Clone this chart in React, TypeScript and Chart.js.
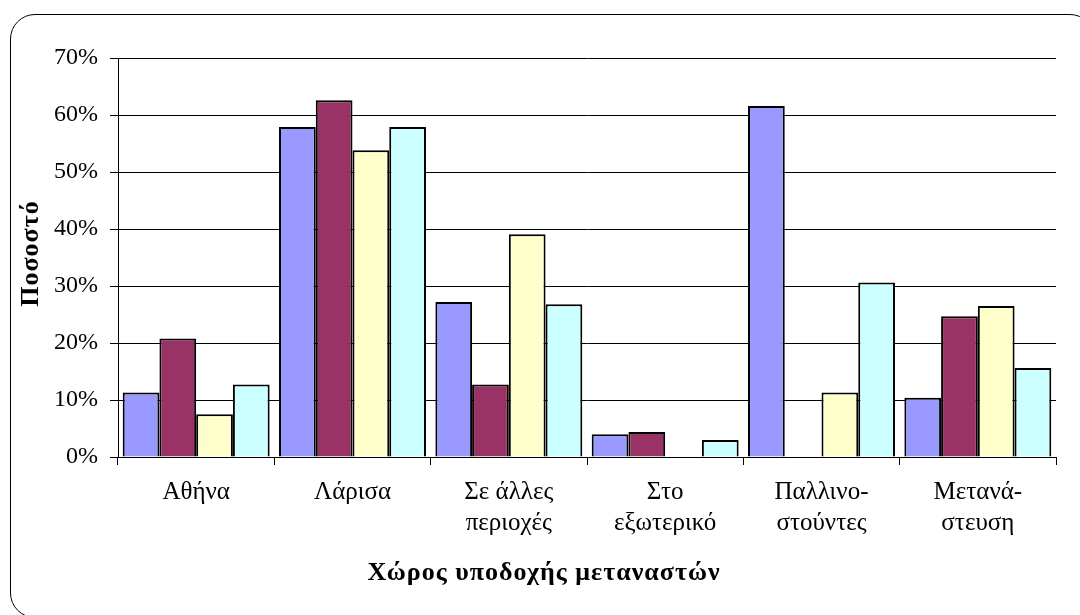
import React, { useEffect, useRef } from "react";
import { Chart, registerables } from "chart.js";

Chart.register(...registerables);

const categories: string[][] = [
  ["Αθήνα"],
  ["Λάρισα"],
  ["Σε άλλες", "περιοχές"],
  ["Στο", "εξωτερικό"],
  ["Παλλινο-", "στούντες"],
  ["Μετανά-", "στευση"],
];

const seriesNames = ["Σειρά 1", "Σειρά 2", "Σειρά 3", "Σειρά 4"];
const series1 = [11.3, 57.9, 27.2, 4.0, 61.6, 10.4];
const series2 = [20.8, 62.6, 12.7, 4.4, 0, 24.7];
const series3 = [7.5, 53.8, 39.1, 0, 11.3, 26.5];
const series4 = [12.7, 57.9, 26.8, 3.0, 30.6, 15.6];
const seriesColors = ["#9999FF", "#993366", "#FFFFCC", "#CCFFFF"];

const yTitle = "Ποσοστό";
const xTitle = "Χώρος υποδοχής μεταναστών";
const yMin = 0;
const yMax = 70;
const yStep = 10;

const FONT = "'Liberation Serif', 'Times New Roman', serif";

const titlesPlugin = {
  id: "axisTitles",
  afterDraw(chart: any) {
    const ctx = chart.ctx as CanvasRenderingContext2D;
    const area = chart.chartArea;
    ctx.save();
    (ctx as any).letterSpacing = "1px";
    ctx.fillStyle = "#000";
    ctx.font = `bold 26px ${FONT}`;
    ctx.textAlign = "center";
    ctx.textBaseline = "middle";
    // x-axis title, centred on the canvas below the tick labels
    ctx.fillText(xTitle, chart.width / 2 + 4, area.bottom + 116);
    // y-axis title, rotated, centred on the plot area
    ctx.translate(31, (area.top + area.bottom) / 2 - 4);
    ctx.rotate(-Math.PI / 2);
    ctx.fillText(yTitle, 0, 0);
    ctx.restore();
  },
};

export default function App() {
  const ref = useRef<HTMLCanvasElement | null>(null);

  useEffect(() => {
    if (!ref.current) return;
    const all = [series1, series2, series3, series4];
    const chart = new Chart(ref.current, {
      type: "bar",
      data: {
        labels: categories,
        datasets: all.map((d, i) => ({
          label: seriesNames[i],
          data: d,
          backgroundColor: seriesColors[i],
          borderColor: "#000",
          borderWidth: 2,
          categoryPercentage: 0.94,
          barPercentage: 1.0,
        })),
      },
      options: {
        responsive: false,
        animation: false,
        events: [],
        layout: { padding: { left: 0, right: 24, top: 58, bottom: 0 } },
        plugins: {
          legend: { display: false },
          tooltip: { enabled: false },
          title: { display: false },
        },
        scales: {
          x: {
            afterFit: (s: any) => {
              s.height = 158;
            },
            grid: {
              display: true,
              drawOnChartArea: false,
              drawTicks: true,
              tickLength: 8,
              color: "#000",
              offset: true,
            },
            border: { display: true, color: "#000", width: 1 },
            ticks: {
              color: "#000",
              padding: 12,
              maxRotation: 0,
              autoSkip: false,
              font: { family: FONT, size: 25, lineHeight: 1.25 },
            },
          },
          y: {
            min: yMin,
            max: yMax,
            afterFit: (s: any) => {
              s.width = 118;
            },
            grid: {
              color: "#000",
              lineWidth: 1,
              tickLength: 8,
              drawTicks: true,
            },
            border: { display: true, color: "#000", width: 1 },
            ticks: {
              stepSize: yStep,
              color: "#000",
              padding: 12,
              font: { family: FONT, size: 24 },
              callback: (v: any) => `${v}%`,
            },
          },
        },
      },
      plugins: [titlesPlugin],
    });
    return () => chart.destroy();
  }, []);

  return (
    <div
      style={{
        position: "fixed",
        left: 0,
        top: 0,
        width: 1080,
        height: 615,
        overflow: "hidden",
        background: "#fff",
      }}
    >
      <canvas
        ref={ref}
        width={1080}
        height={615}
        style={{ position: "absolute", left: 0, top: 0, width: 1080, height: 615 }}
      />
      <div
        style={{
          position: "absolute",
          left: 10,
          top: 14,
          width: 1085,
          height: 604,
          border: "1.5px solid #000",
          borderRadius: 25,
          boxSizing: "border-box",
          pointerEvents: "none",
        }}
      />
    </div>
  );
}
